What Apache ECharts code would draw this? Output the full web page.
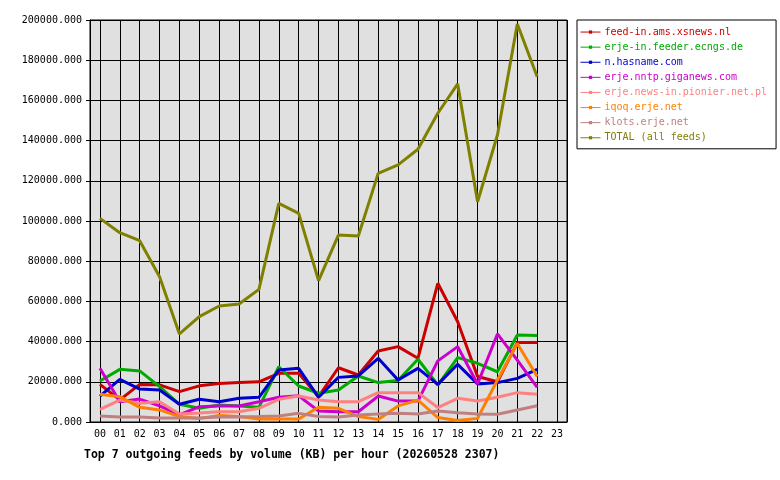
<!DOCTYPE html>
<html>
<head>
<meta charset="utf-8">
<script src="https://cdn.jsdelivr.net/npm/echarts@6/dist/echarts.min.js"></script>
<style>html,body{margin:0;padding:0;background:#fff;}#c{width:780px;height:480px;}</style>
</head>
<body>
<div id="c"></div>
<script>
const hours = ['00','01','02','03','04','05','06','07','08','09','10','11','12','13','14','15','16','17','18','19','20','21','22','23'];
const yTicks = [0, 200000, 20000];

const seriesNames = ['feed-in.ams.xsnews.nl','erje-in.feeder.ecngs.de','n.hasname.com','erje.nntp.giganews.com','erje.news-in.pionier.net.pl','iqoq.erje.net','klots.erje.net','TOTAL (all feeds)'];
const seriesColors = ['#cc0000','#00aa00','#0000cc','#cc00cc','#ff8080','#ff8000','#c08080','#808000'];

const feedInAms = [18700,11000,18700,18500,15100,18000,19200,19700,20000,24200,24200,12600,27000,23400,35300,37500,31700,69000,49900,22600,20000,39500,39500];
const erjeInFeeder = [20400,26200,25400,17600,8800,6800,8500,8000,7300,27500,17900,14300,15900,22900,19600,20600,31200,18400,32000,29200,25000,43300,43000];
const nHasname = [12900,21200,16400,15900,8800,11300,10100,11800,12300,25900,26700,12300,22200,22900,31700,20900,26700,18700,28700,18900,19600,21700,26200];
const erjeNntp = [26700,10100,11400,8000,3500,7600,8000,8000,10100,12300,13000,5500,5100,5100,12900,10400,10400,30400,37500,18900,43800,30800,17200];
const erjeNewsIn = [6300,10900,9300,10100,4000,4500,5100,5100,6800,11300,12900,10900,10100,10100,14600,14600,14600,7200,11800,10400,12300,14600,13800];
const iqoq = [13800,12600,7300,6000,2700,1800,3200,2700,1500,1500,1500,7300,6800,2700,1300,8000,10900,2200,700,1800,20900,39100,22600];
const klots = [3000,2500,2500,2000,2000,2000,2500,2500,2700,3000,4300,2700,2500,3500,4000,4300,4000,5500,4600,4000,3900,6000,8100];
const total = [101300,94200,90200,72300,43800,52400,57700,58700,66000,108800,103800,70300,93000,92500,123700,127900,135700,153600,168200,109600,142800,198000,171800];

const seriesData = [feedInAms, erjeInFeeder, nHasname, erjeNntp, erjeNewsIn, iqoq, klots, total];

// half-hour slots used only to place vertical grid lines on the hour centres
const halfSlots = hours.flatMap(h => [h + 'a', h + 'b']);

const FONT = '"DejaVu Sans Mono", monospace';
const chart = echarts.init(document.getElementById('c'), null, {renderer: 'canvas'});
chart.setOption({
  animation: false,
  backgroundColor: '#ffffff',
  title: {
    text: 'Top 7 outgoing feeds by volume (KB) per hour (20260528 2307)',
    left: 79, top: 444,
    textStyle: {fontFamily: FONT, fontSize: 11.5, fontWeight: 'bold', color: '#000'}
  },
  legend: {
    orient: 'vertical',
    left: 577, top: 20,
    backgroundColor: '#ffffff',
    borderColor: '#000', borderWidth: 1,
    padding: [6, 9, 5, 3],
    itemGap: 3,
    itemWidth: 20, itemHeight: 4,
    lineStyle: {width: 1},
    textStyle: {fontFamily: FONT, fontSize: 10, lineHeight: 12.1, padding: [0, 0, 0, -1]},
    data: seriesNames.map((n, i) => ({name: n, textStyle: {color: seriesColors[i]}}))
  },
  grid: {
    left: 90, right: 213, top: 20, bottom: 58,
    show: true, backgroundColor: '#e0e0e0', borderColor: '#000', borderWidth: 1,
    containLabel: false
  },
  xAxis: [{
    type: 'category',
    data: hours,
    boundaryGap: true,
    axisLine: {lineStyle: {color: '#000', width: 1}},
    axisTick: {alignWithLabel: true, length: 4, interval: 0, lineStyle: {color: '#000'}},
    axisLabel: {fontFamily: FONT, fontSize: 10, color: '#000', margin: 7, interval: 0},
    splitLine: {show: false}
  }, {
    type: 'category',
    data: halfSlots,
    boundaryGap: true,
    position: 'bottom',
    axisLine: {show: false},
    axisTick: {show: false},
    axisLabel: {show: false},
    splitLine: {show: true, interval: (i) => i % 2 === 1, lineStyle: {color: '#000', width: 1}}
  }],
  yAxis: {
    type: 'value',
    min: yTicks[0], max: yTicks[1], interval: yTicks[2],
    axisLine: {show: true, lineStyle: {color: '#000', width: 1}},
    axisTick: {show: true, length: 4, lineStyle: {color: '#000'}},
    axisLabel: {fontFamily: FONT, fontSize: 10, color: '#000', margin: 8, formatter: v => v.toFixed(3)},
    splitLine: {show: true, lineStyle: {color: '#000', width: 1}}
  },
  series: seriesNames.map((n, i) => ({
    name: n,
    type: 'line',
    xAxisIndex: 0,
    data: seriesData[i],
    color: seriesColors[i],
    symbol: 'rect', symbolSize: 4, showSymbol: false,
    lineStyle: {width: 3, color: seriesColors[i]},
    itemStyle: {color: seriesColors[i]},
    emphasis: {disabled: true}
  }))
});
</script>
</body>
</html>
